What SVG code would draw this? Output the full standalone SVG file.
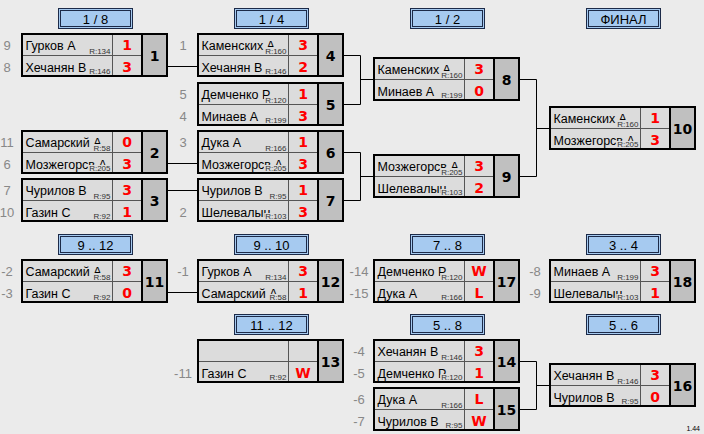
<svg xmlns="http://www.w3.org/2000/svg" xmlns:xlink="http://www.w3.org/1999/xlink" width="704" height="434" viewBox="0 0 704 434">
<style>
.bg{fill:#dcdcdc}
.rb{fill:#dcdcdc}
.nm{font-family:"Liberation Sans",Arial,sans-serif;font-size:12.5px;fill:#000}
.rt{font-family:"Liberation Sans",Arial,sans-serif;font-size:8px;fill:#333;text-anchor:end}
.sc{font-family:"DejaVu Sans",sans-serif;font-weight:bold;font-size:14px;fill:#f00;text-anchor:middle}
.num{font-family:"DejaVu Sans",sans-serif;font-weight:bold;font-size:14px;fill:#000;text-anchor:middle}
.seed{font-family:"Liberation Sans",Arial,sans-serif;font-size:13px;fill:#888;text-anchor:middle}
.sep{stroke:#555;stroke-width:1}
.nc{fill:#c0c0c0}
.ob{fill:none;stroke:#000;stroke-width:2}
.ho{fill:#a6caf0;stroke:#1c2a48;stroke-width:1}
.hi{fill:none;stroke:#1c2a48;stroke-width:1}
.ht{font-family:"Liberation Sans",Arial,sans-serif;font-size:13px;fill:#000;text-anchor:middle}
.cn{fill:none;stroke:#000;stroke-width:1}
.ver{font-family:"Liberation Sans",Arial,sans-serif;font-size:7px;fill:#000;text-anchor:end}
</style>
<defs>
<g id="fb"><rect class="bg" width="147" height="44"/></g>
<g id="ft">
<rect class="bg" x="92" y="2" width="28" height="40"/>
<line class="sep" x1="2" y1="22.5" x2="120" y2="22.5"/>
<line class="sep" x1="91.5" y1="2" x2="91.5" y2="42"/>
<rect class="nc" x="121" y="1" width="25" height="42"/>
<line x1="121" y1="0" x2="121" y2="44" stroke="#000" stroke-width="2"/>
<rect class="ob" x="1" y="1" width="145" height="42"/>
</g>
</defs>
<rect width="704" height="434" fill="#ebebeb"/>

<g id="headers">
<g id="h-18"><rect class="ho" x="58.5" y="8.5" width="74" height="20"/><rect class="hi" x="60.5" y="10.5" width="70" height="16"/><text class="ht" x="95.5" y="24">1 / 8</text></g>
<g id="h-14"><rect class="ho" x="234.5" y="8.5" width="74" height="20"/><rect class="hi" x="236.5" y="10.5" width="70" height="16"/><text class="ht" x="271.5" y="24">1 / 4</text></g>
<g id="h-12"><rect class="ho" x="410.5" y="8.5" width="74" height="20"/><rect class="hi" x="412.5" y="10.5" width="70" height="16"/><text class="ht" x="447.5" y="24">1 / 2</text></g>
<g id="h-final"><rect class="ho" x="586.5" y="8.5" width="74" height="20"/><rect class="hi" x="588.5" y="10.5" width="70" height="16"/><text class="ht" x="623.5" y="24">ФИНАЛ</text></g>
<g id="h-9-12"><rect class="ho" x="58.5" y="234.5" width="74" height="20"/><rect class="hi" x="60.5" y="236.5" width="70" height="16"/><text class="ht" x="95.5" y="250">9 .. 12</text></g>
<g id="h-9-10"><rect class="ho" x="234.5" y="234.5" width="74" height="20"/><rect class="hi" x="236.5" y="236.5" width="70" height="16"/><text class="ht" x="271.5" y="250">9 .. 10</text></g>
<g id="h-7-8"><rect class="ho" x="410.5" y="234.5" width="74" height="20"/><rect class="hi" x="412.5" y="236.5" width="70" height="16"/><text class="ht" x="447.5" y="250">7 .. 8</text></g>
<g id="h-3-4"><rect class="ho" x="586.5" y="234.5" width="74" height="20"/><rect class="hi" x="588.5" y="236.5" width="70" height="16"/><text class="ht" x="623.5" y="250">3 .. 4</text></g>
<g id="h-11-12"><rect class="ho" x="234.5" y="314.5" width="74" height="20"/><rect class="hi" x="236.5" y="316.5" width="70" height="16"/><text class="ht" x="271.5" y="330">11 .. 12</text></g>
<g id="h-5-8"><rect class="ho" x="410.5" y="314.5" width="74" height="20"/><rect class="hi" x="412.5" y="316.5" width="70" height="16"/><text class="ht" x="447.5" y="330">5 .. 8</text></g>
<g id="h-5-6"><rect class="ho" x="586.5" y="314.5" width="74" height="20"/><rect class="hi" x="588.5" y="316.5" width="70" height="16"/><text class="ht" x="623.5" y="330">5 .. 6</text></g>
</g>

<g id="connectors" class="cn">
<path d="M168 66.5H197"/>
<path d="M168 163.5H197"/>
<path d="M168 190.5H197"/>
<path d="M168 292.5H197"/>
<path d="M344 55.5H360.5V104.5H344M360.5 79.5H373"/>
<path d="M344 152.5H360.5V200.5H344M360.5 176.5H373"/>
<path d="M520 79.5H536.5V176.5H520M536.5 128.5H549"/>
<path d="M520 361.5H536.5V409.5H520M536.5 385.5H549"/>
</g>

<g id="m1" transform="translate(21,33)">
<use xlink:href="#fb"/>
<text class="seed" x="-14" y="16.5">9</text><text class="seed" x="-14" y="38.5">8</text>
<text class="nm" x="4.5" y="16.5">Гурков А</text><text class="nm" x="4.5" y="38.5">Хечанян В</text>
<rect class="rb" x="67.2" y="14" width="23.8" height="8"/><text class="rt" x="89.5" y="21">R:134</text>
<rect class="rb" x="67.2" y="35" width="23.8" height="7"/><text class="rt" x="89.5" y="41">R:146</text>
<use xlink:href="#ft"/>
<text class="sc" x="106" y="16.5">1</text><text class="sc" x="106" y="38.5">3</text>
<text class="num" x="133.5" y="28">1</text>
</g>

<g id="m2" transform="translate(21,130)">
<use xlink:href="#fb"/>
<text class="seed" x="-14" y="16.5">11</text><text class="seed" x="-14" y="38.5">6</text>
<text class="nm" x="4.5" y="16.5">Самарский А</text><text class="nm" x="4.5" y="38.5">Мозжегорсв А</text>
<rect class="rb" x="71.6" y="14" width="19.4" height="8"/><text class="rt" x="89.5" y="21">R:58</text>
<rect class="rb" x="67.2" y="35" width="23.8" height="7"/><text class="rt" x="89.5" y="41">R:205</text>
<use xlink:href="#ft"/>
<text class="sc" x="106" y="16.5">0</text><text class="sc" x="106" y="38.5">3</text>
<text class="num" x="133.5" y="28">2</text>
</g>

<g id="m3" transform="translate(21,178)">
<use xlink:href="#fb"/>
<text class="seed" x="-14" y="16.5">7</text><text class="seed" x="-14" y="38.5">10</text>
<text class="nm" x="4.5" y="16.5">Чурилов В</text><text class="nm" x="4.5" y="38.5">Газин С</text>
<rect class="rb" x="71.6" y="14" width="19.4" height="8"/><text class="rt" x="89.5" y="21">R:95</text>
<rect class="rb" x="71.6" y="35" width="19.4" height="7"/><text class="rt" x="89.5" y="41">R:92</text>
<use xlink:href="#ft"/>
<text class="sc" x="106" y="16.5">3</text><text class="sc" x="106" y="38.5">1</text>
<text class="num" x="133.5" y="28">3</text>
</g>

<g id="m11" transform="translate(21,259)">
<use xlink:href="#fb"/>
<text class="seed" x="-14" y="16.5">-2</text><text class="seed" x="-14" y="38.5">-3</text>
<text class="nm" x="4.5" y="16.5">Самарский А</text><text class="nm" x="4.5" y="38.5">Газин С</text>
<rect class="rb" x="71.6" y="14" width="19.4" height="8"/><text class="rt" x="89.5" y="21">R:58</text>
<rect class="rb" x="71.6" y="35" width="19.4" height="7"/><text class="rt" x="89.5" y="41">R:92</text>
<use xlink:href="#ft"/>
<text class="sc" x="106" y="16.5">3</text><text class="sc" x="106" y="38.5">0</text>
<text class="num" x="133.5" y="28">11</text>
</g>

<g id="m4" transform="translate(197,33)">
<use xlink:href="#fb"/>
<text class="seed" x="-14" y="16.5">1</text>
<text class="nm" x="4.5" y="16.5">Каменских А</text><text class="nm" x="4.5" y="38.5">Хечанян В</text>
<rect class="rb" x="67.2" y="14" width="23.8" height="8"/><text class="rt" x="89.5" y="21">R:160</text>
<rect class="rb" x="67.2" y="35" width="23.8" height="7"/><text class="rt" x="89.5" y="41">R:146</text>
<use xlink:href="#ft"/>
<text class="sc" x="106" y="16.5">3</text><text class="sc" x="106" y="38.5">2</text>
<text class="num" x="133.5" y="28">4</text>
</g>

<g id="m5" transform="translate(197,82)">
<use xlink:href="#fb"/>
<text class="seed" x="-14" y="16.5">5</text><text class="seed" x="-14" y="38.5">4</text>
<text class="nm" x="4.5" y="16.5">Демченко Р</text><text class="nm" x="4.5" y="38.5">Минаев А</text>
<rect class="rb" x="67.2" y="14" width="23.8" height="8"/><text class="rt" x="89.5" y="21">R:120</text>
<rect class="rb" x="67.2" y="35" width="23.8" height="7"/><text class="rt" x="89.5" y="41">R:199</text>
<use xlink:href="#ft"/>
<text class="sc" x="106" y="16.5">1</text><text class="sc" x="106" y="38.5">3</text>
<text class="num" x="133.5" y="28">5</text>
</g>

<g id="m6" transform="translate(197,130)">
<use xlink:href="#fb"/>
<text class="seed" x="-14" y="16.5">3</text>
<text class="nm" x="4.5" y="16.5">Дука А</text><text class="nm" x="4.5" y="38.5">Мозжегорсв А</text>
<rect class="rb" x="67.2" y="14" width="23.8" height="8"/><text class="rt" x="89.5" y="21">R:166</text>
<rect class="rb" x="67.2" y="35" width="23.8" height="7"/><text class="rt" x="89.5" y="41">R:205</text>
<use xlink:href="#ft"/>
<text class="sc" x="106" y="16.5">1</text><text class="sc" x="106" y="38.5">3</text>
<text class="num" x="133.5" y="28">6</text>
</g>

<g id="m7" transform="translate(197,178)">
<use xlink:href="#fb"/>
<text class="seed" x="-14" y="38.5">2</text>
<text class="nm" x="4.5" y="16.5">Чурилов В</text><text class="nm" x="4.5" y="38.5">Шелевалын</text>
<rect class="rb" x="71.6" y="14" width="19.4" height="8"/><text class="rt" x="89.5" y="21">R:95</text>
<rect class="rb" x="67.2" y="35" width="23.8" height="7"/><text class="rt" x="89.5" y="41">R:103</text>
<use xlink:href="#ft"/>
<text class="sc" x="106" y="16.5">1</text><text class="sc" x="106" y="38.5">3</text>
<text class="num" x="133.5" y="28">7</text>
</g>

<g id="m12" transform="translate(197,259)">
<use xlink:href="#fb"/>
<text class="seed" x="-14" y="16.5">-1</text>
<text class="nm" x="4.5" y="16.5">Гурков А</text><text class="nm" x="4.5" y="38.5">Самарский А</text>
<rect class="rb" x="67.2" y="14" width="23.8" height="8"/><text class="rt" x="89.5" y="21">R:134</text>
<rect class="rb" x="71.6" y="35" width="19.4" height="7"/><text class="rt" x="89.5" y="41">R:58</text>
<use xlink:href="#ft"/>
<text class="sc" x="106" y="16.5">3</text><text class="sc" x="106" y="38.5">1</text>
<text class="num" x="133.5" y="28">12</text>
</g>

<g id="m13" transform="translate(197,339)">
<use xlink:href="#fb"/>
<text class="seed" x="-14" y="38.5">-11</text>
<text class="nm" x="4.5" y="38.5">Газин С</text>
<rect class="rb" x="71.6" y="35" width="19.4" height="7"/><text class="rt" x="89.5" y="41">R:92</text>
<use xlink:href="#ft"/>
<text class="sc" x="106" y="38.5">W</text>
<text class="num" x="133.5" y="28">13</text>
</g>

<g id="m8" transform="translate(373,57)">
<use xlink:href="#fb"/>
<text class="nm" x="4.5" y="16.5">Каменских А</text><text class="nm" x="4.5" y="38.5">Минаев А</text>
<rect class="rb" x="67.2" y="14" width="23.8" height="8"/><text class="rt" x="89.5" y="21">R:160</text>
<rect class="rb" x="67.2" y="35" width="23.8" height="7"/><text class="rt" x="89.5" y="41">R:199</text>
<use xlink:href="#ft"/>
<text class="sc" x="106" y="16.5">3</text><text class="sc" x="106" y="38.5">0</text>
<text class="num" x="133.5" y="28">8</text>
</g>

<g id="m9" transform="translate(373,154)">
<use xlink:href="#fb"/>
<text class="nm" x="4.5" y="16.5">Мозжегорсв А</text><text class="nm" x="4.5" y="38.5">Шелевалын</text>
<rect class="rb" x="67.2" y="14" width="23.8" height="8"/><text class="rt" x="89.5" y="21">R:205</text>
<rect class="rb" x="67.2" y="35" width="23.8" height="7"/><text class="rt" x="89.5" y="41">R:103</text>
<use xlink:href="#ft"/>
<text class="sc" x="106" y="16.5">3</text><text class="sc" x="106" y="38.5">2</text>
<text class="num" x="133.5" y="28">9</text>
</g>

<g id="m17" transform="translate(373,259)">
<use xlink:href="#fb"/>
<text class="seed" x="-14" y="16.5">-14</text><text class="seed" x="-14" y="38.5">-15</text>
<text class="nm" x="4.5" y="16.5">Демченко Р</text><text class="nm" x="4.5" y="38.5">Дука А</text>
<rect class="rb" x="67.2" y="14" width="23.8" height="8"/><text class="rt" x="89.5" y="21">R:120</text>
<rect class="rb" x="67.2" y="35" width="23.8" height="7"/><text class="rt" x="89.5" y="41">R:166</text>
<use xlink:href="#ft"/>
<text class="sc" x="106" y="16.5">W</text><text class="sc" x="106" y="38.5">L</text>
<text class="num" x="133.5" y="28">17</text>
</g>

<g id="m14" transform="translate(373,339)">
<use xlink:href="#fb"/>
<text class="seed" x="-14" y="16.5">-4</text><text class="seed" x="-14" y="38.5">-5</text>
<text class="nm" x="4.5" y="16.5">Хечанян В</text><text class="nm" x="4.5" y="38.5">Демченко Р</text>
<rect class="rb" x="67.2" y="14" width="23.8" height="8"/><text class="rt" x="89.5" y="21">R:146</text>
<rect class="rb" x="67.2" y="35" width="23.8" height="7"/><text class="rt" x="89.5" y="41">R:120</text>
<use xlink:href="#ft"/>
<text class="sc" x="106" y="16.5">3</text><text class="sc" x="106" y="38.5">1</text>
<text class="num" x="133.5" y="28">14</text>
</g>

<g id="m15" transform="translate(373,387)">
<use xlink:href="#fb"/>
<text class="seed" x="-14" y="16.5">-6</text><text class="seed" x="-14" y="38.5">-7</text>
<text class="nm" x="4.5" y="16.5">Дука А</text><text class="nm" x="4.5" y="38.5">Чурилов В</text>
<rect class="rb" x="67.2" y="14" width="23.8" height="8"/><text class="rt" x="89.5" y="21">R:166</text>
<rect class="rb" x="71.6" y="35" width="19.4" height="7"/><text class="rt" x="89.5" y="41">R:95</text>
<use xlink:href="#ft"/>
<text class="sc" x="106" y="16.5">L</text><text class="sc" x="106" y="38.5">W</text>
<text class="num" x="133.5" y="28">15</text>
</g>

<g id="m10" transform="translate(549,106)">
<use xlink:href="#fb"/>
<text class="nm" x="4.5" y="16.5">Каменских А</text><text class="nm" x="4.5" y="38.5">Мозжегорсв А</text>
<rect class="rb" x="67.2" y="14" width="23.8" height="8"/><text class="rt" x="89.5" y="21">R:160</text>
<rect class="rb" x="67.2" y="35" width="23.8" height="7"/><text class="rt" x="89.5" y="41">R:205</text>
<use xlink:href="#ft"/>
<text class="sc" x="106" y="16.5">1</text><text class="sc" x="106" y="38.5">3</text>
<text class="num" x="133.5" y="28">10</text>
</g>

<g id="m18" transform="translate(549,259)">
<use xlink:href="#fb"/>
<text class="seed" x="-14" y="16.5">-8</text><text class="seed" x="-14" y="38.5">-9</text>
<text class="nm" x="4.5" y="16.5">Минаев А</text><text class="nm" x="4.5" y="38.5">Шелевалын</text>
<rect class="rb" x="67.2" y="14" width="23.8" height="8"/><text class="rt" x="89.5" y="21">R:199</text>
<rect class="rb" x="67.2" y="35" width="23.8" height="7"/><text class="rt" x="89.5" y="41">R:103</text>
<use xlink:href="#ft"/>
<text class="sc" x="106" y="16.5">3</text><text class="sc" x="106" y="38.5">1</text>
<text class="num" x="133.5" y="28">18</text>
</g>

<g id="m16" transform="translate(549,363)">
<use xlink:href="#fb"/>
<text class="nm" x="4.5" y="16.5">Хечанян В</text><text class="nm" x="4.5" y="38.5">Чурилов В</text>
<rect class="rb" x="67.2" y="14" width="23.8" height="8"/><text class="rt" x="89.5" y="21">R:146</text>
<rect class="rb" x="71.6" y="35" width="19.4" height="7"/><text class="rt" x="89.5" y="41">R:95</text>
<use xlink:href="#ft"/>
<text class="sc" x="106" y="16.5">3</text><text class="sc" x="106" y="38.5">0</text>
<text class="num" x="133.5" y="28">16</text>
</g>

<text class="ver" x="700" y="431">1.44</text>
</svg>
